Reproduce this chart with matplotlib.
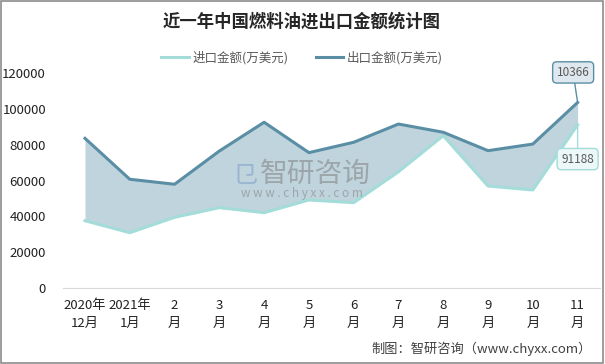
import numpy as np
import matplotlib.pyplot as plt
from matplotlib.patches import Rectangle

plt.rcParams['font.family'] = ['Noto Sans CJK SC', 'DejaVu Sans']

months = ['2020年\n12月', '2021年\n1月', '2\n月', '3\n月', '4\n月', '5\n月',
          '6\n月', '7\n月', '8\n月', '9\n月', '10\n月', '11\n月']
imports = [37500, 30800, 39400, 44800, 42000, 49100,
           47600, 64900, 85100, 56900, 54700, 91188]
exports = [83600, 60700, 57900, 76500, 92600, 75600,
           81400, 91600, 87000, 76700, 80400, 103660]
imp_label = '91188'
exp_label = '10366'
yticks = [0, 20000, 40000, 60000, 80000, 100000, 120000]

c_imp = '#a3dcd8'
c_exp = '#5a8ea5'
c_fill = '#c0d4dd'
c_text = '#404040'

fig = plt.figure(figsize=(6.05, 3.64), dpi=100)
ax = fig.add_axes([62.6/605, 0.2096, (600-62.6)/605, 0.589])

x = np.arange(len(months))
ax.fill_between(x, imports, exports, color=c_fill, lw=0, zorder=1)
ax.plot(x, imports, color=c_imp, lw=2.2, label='进口金额(万美元)', zorder=3)
ax.plot(x, exports, color=c_exp, lw=2.2, label='出口金额(万美元)', zorder=3)

ax.set_xlim(-0.5, len(months) - 0.5)
ax.set_ylim(0, 120000)
ax.set_yticks(yticks)
ax.set_yticklabels([str(v) for v in yticks], fontsize=9.5, color='#222222')
ax.set_xticks(x)
ax.set_xticklabels(months, fontsize=9.5, color='#222222', linespacing=1.55)
ax.tick_params(length=0)
ax.tick_params(axis='x', pad=8)
ax.tick_params(axis='y', pad=12)
for s in ['top', 'right', 'left']:
    ax.spines[s].set_visible(False)
ax.spines['bottom'].set_color('#d9d9d9')

# callouts on the last point
ax.annotate(exp_label, xy=(11, exports[-1]), xytext=(10.9, 120500),
            ha='center', va='center', fontsize=8.5, color='#595959',
            bbox=dict(boxstyle='round,pad=0.35', fc='#dfe8ee', ec=c_exp, lw=1),
            arrowprops=dict(arrowstyle='-', color=c_exp, lw=1, shrinkA=0, shrinkB=0),
            annotation_clip=False, zorder=5)
ax.annotate(imp_label, xy=(11, imports[-1]), xytext=(11, 72000),
            ha='center', va='center', fontsize=8.5, color='#595959',
            bbox=dict(boxstyle='round,pad=0.35', fc='#ecf7f7', ec=c_imp, lw=1),
            arrowprops=dict(arrowstyle='-', color=c_imp, lw=1, shrinkA=0, shrinkB=0),
            annotation_clip=False, zorder=5)

# watermark
fig.text(315/605, 1 - 174/364, '智研咨询', fontsize=20, color='#7f7f7f', alpha=0.55,
         ha='center', va='center')
fig.text(302/605, 1 - 194/364, 'w w w . c h y x x . c o m', fontsize=8.5,
         color='#7f7f7f', alpha=0.55, ha='center', va='center')
fig.text(245/605, 1 - 176/364, '㔾', fontsize=18, color='#7b9cc8', alpha=0.55,
         ha='center', va='center')

fig.text(302/605, 1 - 22/364, '近一年中国燃料油进出口金额统计图', fontsize=12.5,
         fontweight='bold', color='#262626', ha='center', va='center')
fig.legend(loc='center', bbox_to_anchor=(302/605, 1 - 58/364), ncol=2, frameon=False,
           fontsize=9, labelcolor='#595959', handlelength=2.2, columnspacing=2.2,
           handletextpad=0.3)
fig.text(592/605, 1 - 349/364, '制图：智研咨询（www.chyxx.com）', fontsize=9.5,
         color=c_text, ha='right', va='center')

fig.patches.append(Rectangle((0.001, 0.002), 0.996, 0.995, transform=fig.transFigure,
                             fill=False, ec='#8c8c8c', lw=1.2))

fig.savefig('out.png', dpi=100)
